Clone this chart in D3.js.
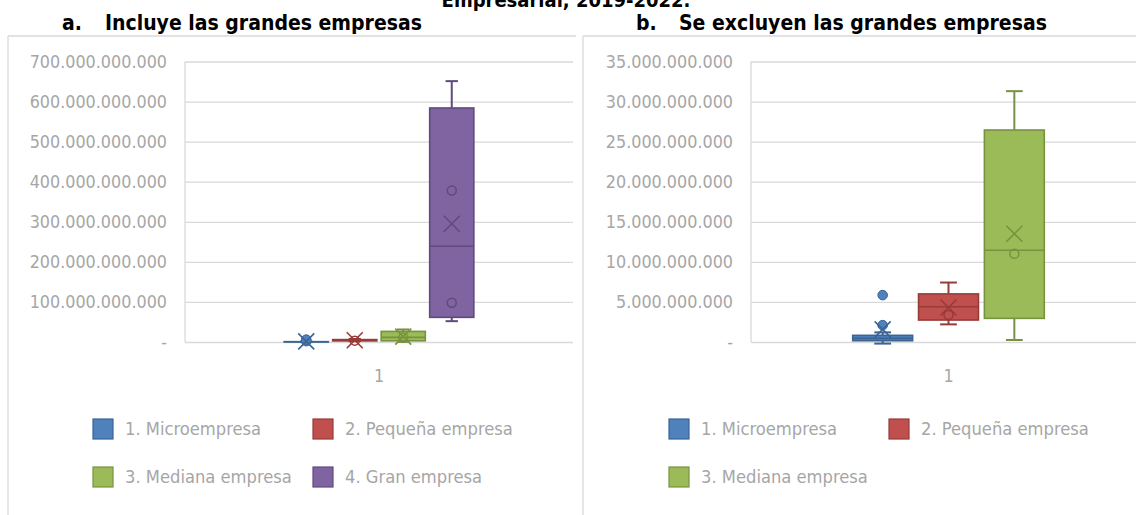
<!DOCTYPE html>
<html lang="es">
<head>
<meta charset="utf-8">
<script src="https://cdn.jsdelivr.net/npm/d3@7"></script>
<style>
  html, body { margin: 0; padding: 0; background: #ffffff; }
  svg { display: block; }
</style>
</head>
<body>
<svg id="chart" width="1136" height="515"></svg>
<script>
// Empresas por tamaño: distribución (caja y bigotes)
const categories = ['1'];
const seriesNames = ['1. Microempresa', '2. Pequeña empresa', '3. Mediana empresa', '4. Gran empresa'];
const whiskerLow  = [-0.2e9, 2.2e9, 0.25e9, 52e9];
const q1Values    = [0.16e9, 2.74e9, 2.95e9, 61.5e9];
const medians     = [0.45e9, 4.4e9, 11.44e9, 239e9];
const q3Values    = [0.83e9, 6.0e9, 26.45e9, 584e9];
const whiskerHigh = [1.2e9, 7.42e9, 31.3e9, 651e9];
const means       = [1.58e9, 4.3e9, 13.5e9, 295e9];
const innerPoints = [[], [3.36e9], [11.0e9], [378e9, 98e9]];
const outliers    = [[2.1e9, 5.85e9], [], [], []];

const ticksA = [0, 100e9, 200e9, 300e9, 400e9, 500e9, 600e9, 700e9];
const ticksB = [0, 5e9, 10e9, 15e9, 20e9, 25e9, 30e9, 35e9];

const titleTop = 'Empresarial, 2019-2022.';
const panelTitles = [['a.', 'Incluye las grandes empresas'], ['b.', 'Se excluyen las grandes empresas']];

const fills   = ['#4f81bd', '#c0504d', '#9bbb59', '#8064a2'];
const strokes = ['#3a6494', '#973b39', '#78923f', '#604a7e'];

const svg = d3.select('#chart');
const FONT = "'DejaVu Sans Condensed', 'DejaVu Sans', sans-serif";
const GRID = '#d9d9d9';
const LABEL = '#a6a6a6';

const es = d3.formatLocale({ decimal: ',', thousands: '.', grouping: [3], currency: ['', ''] });
const fmt = es.format(',.0f');

// Top title line (continues above the page edge)
svg.append('text')
  .attr('x', 566).attr('y', 7)
  .attr('text-anchor', 'middle')
  .style('font-family', FONT).style('font-weight', 'bold').style('font-size', '20px')
  .attr('fill', '#000')
  .text(titleTop);

function drawPanel(cfg) {
  const g = svg.append('g');

  // panel frame (top and left edges)
  g.append('line').attr('x1', cfg.frameX).attr('x2', cfg.frameRight)
    .attr('y1', 36).attr('y2', 36).attr('stroke', GRID).attr('stroke-width', 1.3);
  g.append('line').attr('x1', cfg.frameX).attr('x2', cfg.frameX)
    .attr('y1', 36).attr('y2', 515).attr('stroke', GRID).attr('stroke-width', 1.3);

  // panel heading
  const t = g.append('text').attr('y', 30)
    .style('font-family', FONT).style('font-weight', 'bold').style('font-size', '21px')
    .attr('fill', '#000');
  t.append('tspan').attr('x', cfg.titleX).text(cfg.title[0]);
  t.append('tspan').attr('x', cfg.titleX + 43).text(cfg.title[1]);

  const y = d3.scaleLinear().domain(cfg.domain).range([342, 61.5]);
  const x = d3.scaleBand().domain(categories).range([cfg.left, cfg.right])
    .paddingInner(0).paddingOuter(0.5);
  const xs = d3.scaleBand().domain(cfg.series).range([0, x.bandwidth()])
    .paddingInner(0.09).paddingOuter(0.045);

  // value axis with gridlines
  const yAxis = d3.axisLeft(y).tickValues(cfg.ticks)
    .tickSize(-(cfg.right - cfg.left)).tickPadding(18)
    .tickFormat(d => d === 0 ? '-' : fmt(d));
  const ya = g.append('g').attr('transform', `translate(${cfg.left},0)`).call(yAxis);
  ya.select('.domain').remove();
  ya.selectAll('.tick line').attr('stroke', GRID).attr('stroke-width', 1.3);
  ya.selectAll('.tick text').attr('fill', LABEL)
    .style('font-family', FONT).style('font-size', '17.8px');

  // plot area left edge
  g.append('line').attr('x1', cfg.left).attr('x2', cfg.left)
    .attr('y1', y(cfg.domain[1])).attr('y2', y(0))
    .attr('stroke', GRID).attr('stroke-width', 1.3);

  // category axis
  const xAxis = d3.axisBottom(x).tickSize(0).tickPadding(27);
  const xa = g.append('g').attr('transform', `translate(0,${y(0)})`).call(xAxis);
  xa.select('.domain').remove();
  xa.selectAll('.tick text').attr('fill', LABEL)
    .style('font-family', FONT).style('font-size', '17.8px');

  // boxes
  cfg.series.forEach((name, i) => {
    const bw = xs.bandwidth();
    const x0 = x(categories[0]) + xs(name);
    const cx = x0 + bw / 2;
    const cap = bw * 0.28;
    const col = fills[i], dark = strokes[i];
    const s = g.append('g');

    s.append('line').attr('x1', cx).attr('x2', cx)
      .attr('y1', y(whiskerHigh[i])).attr('y2', y(q3Values[i]))
      .attr('stroke', dark).attr('stroke-width', 2);
    s.append('line').attr('x1', cx).attr('x2', cx)
      .attr('y1', y(q1Values[i])).attr('y2', y(whiskerLow[i]))
      .attr('stroke', dark).attr('stroke-width', 2);
    [whiskerHigh[i], whiskerLow[i]].forEach(v => {
      s.append('line').attr('x1', cx - cap / 2).attr('x2', cx + cap / 2)
        .attr('y1', y(v)).attr('y2', y(v))
        .attr('stroke', dark).attr('stroke-width', 2);
    });

    s.append('rect').attr('x', x0).attr('width', bw)
      .attr('y', y(q3Values[i])).attr('height', Math.max(0, y(q1Values[i]) - y(q3Values[i])))
      .attr('fill', col).attr('stroke', dark).attr('stroke-width', 1.6);

    s.append('line').attr('x1', x0).attr('x2', x0 + bw)
      .attr('y1', y(medians[i])).attr('y2', y(medians[i]))
      .attr('stroke', dark).attr('stroke-width', 1.6);

    innerPoints[i].forEach(v => {
      s.append('circle').attr('cx', cx).attr('cy', y(v)).attr('r', 4.5)
        .attr('fill', 'none').attr('stroke', dark).attr('stroke-width', 1.5);
    });

    outliers[i].forEach(v => {
      s.append('circle').attr('cx', cx).attr('cy', y(v)).attr('r', 4.8)
        .attr('fill', col).attr('stroke', dark).attr('stroke-width', 1);
    });

    const m = y(means[i]), h = 8;
    s.append('path')
      .attr('d', `M${cx - h},${m - h}L${cx + h},${m + h}M${cx - h},${m + h}L${cx + h},${m - h}`)
      .attr('stroke', dark).attr('stroke-width', 1.6).attr('fill', 'none');
  });

  // legend
  const lg = g.append('g');
  cfg.series.forEach((name, i) => {
    const col = i % 2, row = Math.floor(i / 2);
    const lx = cfg.legendX + col * cfg.legendColW;
    const ly = 429 + row * 48;
    lg.append('rect').attr('x', lx).attr('y', ly - 10).attr('width', 20).attr('height', 20)
      .attr('fill', fills[i]).attr('stroke', strokes[i]).attr('stroke-width', 1.2);
    lg.append('text').attr('x', lx + 32).attr('y', ly).attr('dy', '0.35em')
      .attr('fill', LABEL).style('font-family', FONT).style('font-size', '18.2px')
      .text(name);
  });
}

drawPanel({
  frameX: 8, frameRight: 576, titleX: 62, title: panelTitles[0],
  left: 185, right: 573, domain: [0, 700e9], ticks: ticksA,
  series: seriesNames, legendX: 93, legendColW: 220
});

drawPanel({
  frameX: 583, frameRight: 1136, titleX: 636, title: panelTitles[1],
  left: 751, right: 1146, domain: [0, 35e9], ticks: ticksB,
  series: seriesNames.slice(0, 3), legendX: 669, legendColW: 220
});
</script>
</body>
</html>
